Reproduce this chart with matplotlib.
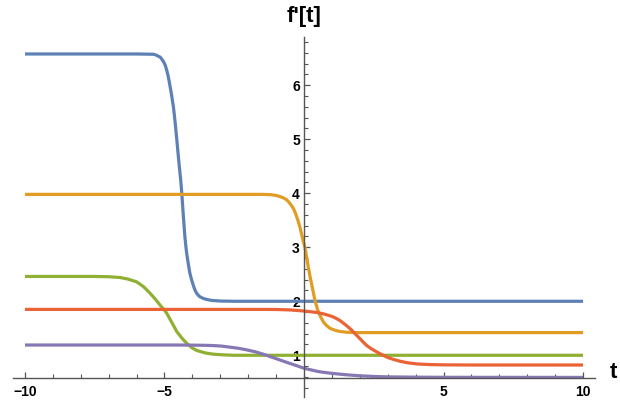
"""Recreate the f'[t] step curves plot in a Mathematica-like style."""

import matplotlib

matplotlib.use("Agg")

import matplotlib.pyplot as plt
from matplotlib.ticker import FixedLocator, MultipleLocator


# values
BLUE_T = [-10, -6, -5.4, -5.3, -5.15, -5.05, -4.98, -4.92, -4.86, -4.8, -4.74, -4.68,
          -4.62, -4.56, -4.51, -4.47, -4.42, -4.38, -4.33, -4.27, -4.22, -4.18, -4.13,
          -4.09, -4.03, -3.97, -3.91, -3.85, -3.75, -3.6, -3.45, -3.3, -3.0, -2.5, 10]
BLUE_V = [6.58, 6.58, 6.575, 6.56, 6.52, 6.45, 6.38, 6.28, 6.15, 5.98, 5.8, 5.6,
          5.32, 5.0, 4.72, 4.5, 4.25, 4.0, 3.62, 3.2, 2.95, 2.8, 2.64,
          2.52, 2.4, 2.3, 2.21, 2.15, 2.09, 2.05, 2.03, 2.015, 2.005, 2.0, 2.0]

ORANGE_T = [-10, -1.5, -1.2, -1.0, -0.86, -0.74, -0.62, -0.5, -0.38, -0.29, -0.2, -0.14,
            -0.08, -0.02, 0.04, 0.1, 0.16, 0.22, 0.28, 0.34, 0.39, 0.45, 0.51, 0.6,
            0.69, 0.8, 0.93, 1.1, 1.29, 1.5, 1.8, 10]
ORANGE_V = [3.98, 3.98, 3.975, 3.96, 3.94, 3.915, 3.88, 3.81, 3.72, 3.61, 3.47, 3.36,
            3.23, 3.1, 2.98, 2.8, 2.61, 2.45, 2.3, 2.15, 2.02, 1.91, 1.81, 1.71,
            1.62, 1.555, 1.5, 1.465, 1.44, 1.428, 1.42, 1.42]

GREEN_T = [-10, -7.5, -7.0, -6.59, -6.3, -6.0, -5.75, -5.52, -5.33, -5.16, -5.04, -4.92,
           -4.74, -4.56, -4.38, -4.2, -4.02, -3.85, -3.55, -3.25, -2.9, -2.5, 10]
GREEN_V = [2.46, 2.46, 2.455, 2.44, 2.41, 2.36, 2.27, 2.15, 2.04, 1.93, 1.86, 1.78,
           1.61, 1.44, 1.32, 1.22, 1.14, 1.09, 1.045, 1.02, 1.008, 1.0, 1.0]

RED_T = [-10, -1.5, -1.0, -0.5, 0.0, 0.25, 0.5, 0.75, 1.0, 1.15, 1.3, 1.5, 1.7, 1.85,
         2.0, 2.12, 2.25, 2.4, 2.55, 2.7, 2.84, 3.0, 3.2, 3.44, 3.7, 4.04, 4.5, 5.0,
         6.0, 10]
RED_V = [1.85, 1.85, 1.848, 1.84, 1.82, 1.805, 1.79, 1.76, 1.72, 1.685, 1.64, 1.56, 1.47,
         1.39, 1.31, 1.245, 1.18, 1.125, 1.08, 1.035, 1.0, 0.96, 0.925, 0.89, 0.862,
         0.84, 0.828, 0.823, 0.82, 0.82]

PURPLE_T = [-10, -4.5, -4.0, -3.6, -3.25, -2.95, -2.65, -2.35, -2.05, -1.75, -1.46,
            -1.18, -0.9, -0.68, -0.45, -0.22, 0.0, 0.25, 0.5, 0.72, 0.93, 1.2, 1.5,
            1.75, 2.0, 2.5, 3.0, 4.0, 5.0, 10]
PURPLE_V = [1.19, 1.19, 1.188, 1.185, 1.18, 1.17, 1.15, 1.13, 1.10, 1.065, 1.02,
            0.97, 0.92, 0.88, 0.84, 0.80, 0.76, 0.73, 0.70, 0.683, 0.67, 0.655, 0.64,
            0.63, 0.62, 0.608, 0.60, 0.595, 0.592, 0.59]

X_MAJOR = [-10, -5, 5, 10]
Y_MAJOR = [1, 2, 3, 4, 5, 6]

COLORS = ["#5E81B5", "#E19C24", "#8FB032", "#EB6235", "#8778B3"]
AXIS_COLOR = "#555555"
X_AXIS_AT = 0.585


def main():
    plt.rcParams["font.family"] = ["Liberation Sans", "DejaVu Sans"]

    fig = plt.figure(figsize=(6.2, 4.03), dpi=100)
    ax = fig.add_axes([13 / 620, 6.3 / 403, 582 / 620, 360 / 403])

    series = [
        (BLUE_T, BLUE_V),
        (ORANGE_T, ORANGE_V),
        (GREEN_T, GREEN_V),
        (RED_T, RED_V),
        (PURPLE_T, PURPLE_V),
    ]
    for (t, v), color in zip(series, COLORS):
        ax.plot(t, v, color=color, linewidth=2.3, solid_capstyle="butt",
                solid_joinstyle="round")

    ax.set_xlim(-10.43, 10.43)
    ax.set_ylim(0.233, 6.9)

    # axes cross like Mathematica's
    ax.spines["left"].set_position(("data", 0))
    ax.spines["bottom"].set_position(("data", X_AXIS_AT))
    ax.spines["top"].set_visible(False)
    ax.spines["right"].set_visible(False)
    for side in ("left", "bottom"):
        ax.spines[side].set_color(AXIS_COLOR)
        ax.spines[side].set_linewidth(1.0)

    ax.xaxis.set_major_locator(FixedLocator(X_MAJOR))
    ax.xaxis.set_minor_locator(MultipleLocator(1))
    ax.yaxis.set_major_locator(FixedLocator(Y_MAJOR))
    ax.yaxis.set_minor_locator(MultipleLocator(0.2))
    ax.set_xticklabels(["\u221210", "\u22125", "5", "10"])
    ax.set_yticklabels([str(v) for v in Y_MAJOR])

    ax.tick_params(axis="both", which="both", direction="in", color=AXIS_COLOR,
                   labelsize=10, labelcolor="black")
    ax.tick_params(axis="both", which="major", length=4.5, width=0.9)
    ax.tick_params(axis="both", which="minor", length=2.8, width=0.8)
    ax.tick_params(axis="x", which="major", pad=5)
    ax.tick_params(axis="y", which="major", pad=3)
    for label in ax.get_xticklabels() + ax.get_yticklabels():
        label.set_fontweight("bold")

    ax.text(0, 1.041, "f'[t]", transform=ax.get_xaxis_transform(), ha="center",
            va="baseline", fontsize=16, fontweight="bold")
    ax.text(1.031, X_AXIS_AT, "t", transform=ax.get_yaxis_transform(), ha="center",
            va="baseline", fontsize=16, fontweight="bold")

    fig.savefig("out.png", dpi=100)
    plt.close(fig)


if __name__ == "__main__":
    main()
